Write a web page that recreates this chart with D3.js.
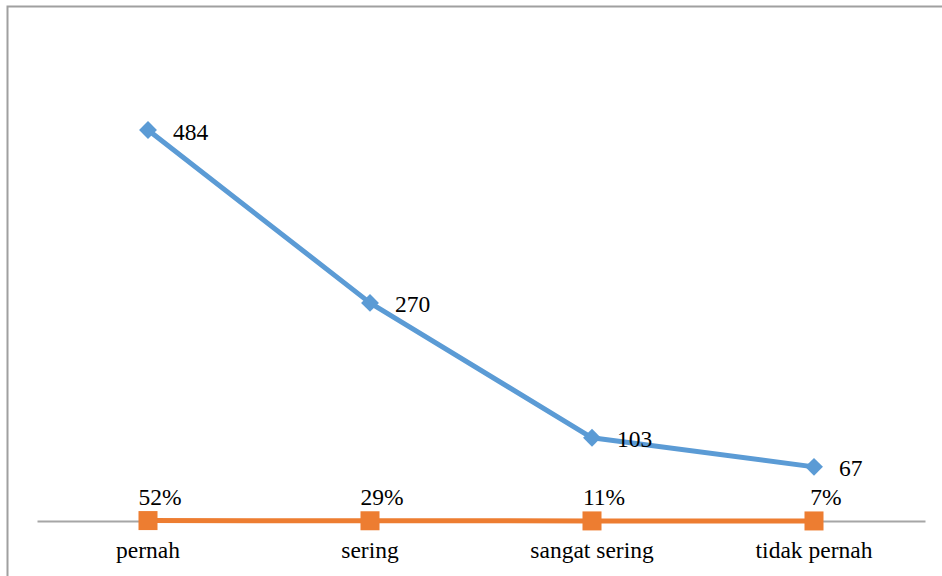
<!DOCTYPE html>
<html><head><meta charset="utf-8">
<script src="https://cdn.jsdelivr.net/npm/d3@7"></script>
<style>html,body{margin:0;padding:0;background:#fff;}</style>
</head><body><svg id="c" width="942" height="576"></svg>
<script>
const categories = ["pernah", "sering", "sangat sering", "tidak pernah"];
const counts = [484, 270, 103, 67];
const shares = [0.52, 0.29, 0.11, 0.07];
const shareLabels = ["52%", "29%", "11%", "7%"];

const svg = d3.select("#c");
const fs = 23.5;
const FONT = '"Liberation Serif"';

// chart frame (only left and top visible in reference)
svg.append("path").attr("d","M7.5,580 V6.5 H950").attr("fill","none").attr("stroke","#a0a0a0").attr("stroke-width",2);

const x = d3.scaleBand().domain(categories).range([37, 925]);
const y = d3.scaleLinear().domain([0, 600]).range([521, 521 - 600 * 391 / 484]);
const cx = d => x(d) + x.bandwidth() / 2;

// category axis
const ax = svg.append("g").attr("transform", "translate(0,521)")
  .call(d3.axisBottom(x).tickSize(0).tickPadding(0));
ax.select(".domain").attr("stroke", "#a6a6a6").attr("stroke-width", 2);
ax.selectAll("text").style("font-family", FONT).style("font-size", fs + "px").attr("fill", "#000")
  .attr("dy", null).attr("y", 37);

// blue series
const line = d3.line().x((d, i) => cx(categories[i])).y(d => y(d));
svg.append("path").datum(counts).attr("d", line).attr("fill", "none")
  .attr("stroke", "#5b9bd5").attr("stroke-width", 5).attr("stroke-linejoin", "round");
svg.selectAll(".dia").data(counts).enter().append("path")
  .attr("d", d3.symbol().type(d3.symbolSquare).size(160))
  .attr("transform", (d, i) => `translate(${cx(categories[i])},${y(d)}) rotate(45)`)
  .attr("fill", "#5b9bd5");
svg.selectAll(".lb").data(counts).enter().append("text")
  .attr("x", (d, i) => cx(categories[i]) + 25).attr("y", d => y(d) + 9.5)
  .style("font-family", FONT).style("font-size", fs + "px").attr("fill", "#000").text(d => d);

// orange series
svg.append("path").datum(shares).attr("d", line).attr("fill", "none")
  .attr("stroke", "#ed7d31").attr("stroke-width", 5);
svg.selectAll(".sq").data(shares).enter().append("rect")
  .attr("x", (d, i) => cx(categories[i]) - 9.5).attr("y", d => y(d) - 9.5)
  .attr("width", 19).attr("height", 19).attr("fill", "#ed7d31");
svg.selectAll(".pl").data(shareLabels).enter().append("text")
  .attr("x", (d, i) => cx(categories[i]) + 12).attr("y", 505)
  .attr("text-anchor", "middle")
  .style("font-family", FONT).style("font-size", fs + "px").attr("fill", "#000").text(d => d);
</script></body></html>
